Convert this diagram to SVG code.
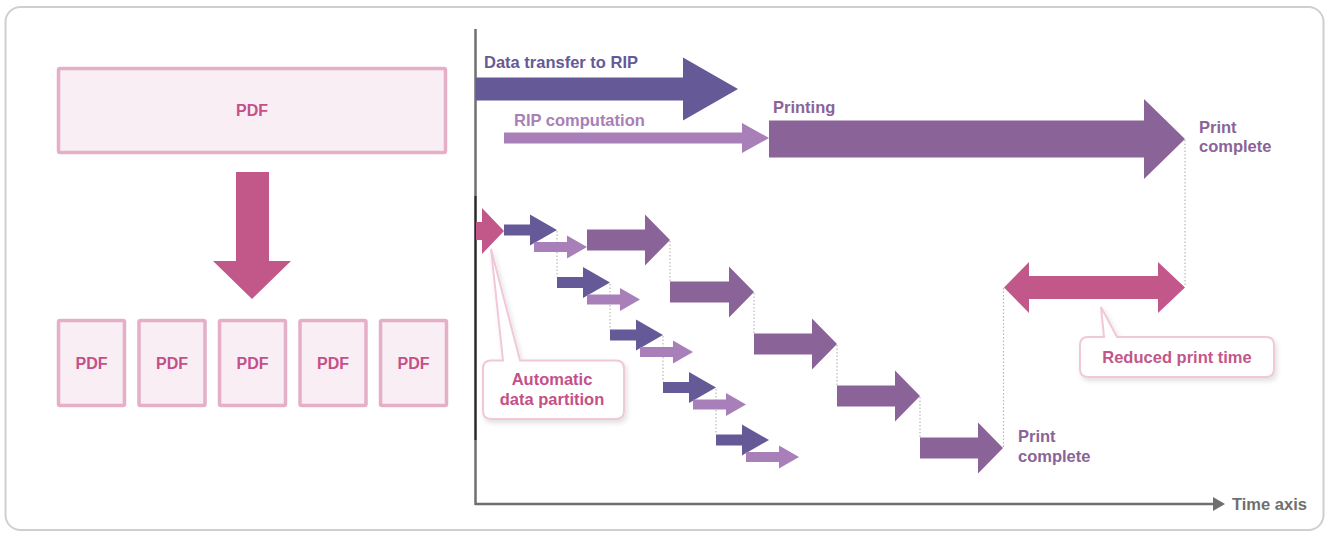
<svg xmlns="http://www.w3.org/2000/svg" width="1326" height="535" viewBox="0 0 1326 535">
<defs>
<style>
text{font-family:"Liberation Sans",Arial,sans-serif;font-weight:bold;font-size:16.5px}
.pdfbox{fill:#f9eef3;stroke:#e4afc7;stroke-width:3.5}
.pdft{fill:#c4508a;text-anchor:middle}
.pdf16{font-size:16px}
.dark{fill:#655a97}
.light{fill:#a87fb8}
.print{fill:#8a6398}
.pink{fill:#c2578a}
.dot{stroke:#b8b8b8;stroke-width:1.2;stroke-dasharray:1.5 2;fill:none}
.callout{fill:#ffffff;stroke:#f0c8da;stroke-width:2;filter:url(#sh)}
.axis{stroke:#6f6f6f;stroke-width:2.5;fill:none}
</style>
<filter id="sh" x="-10%" y="-20%" width="125%" height="150%">
<feDropShadow dx="2" dy="3" stdDeviation="2.5" flood-color="#000" flood-opacity="0.12"/>
</filter>
</defs>
<rect x="5.5" y="7" width="1318" height="523" rx="15" fill="#ffffff" stroke="#cfcfcf" stroke-width="2"/>

<g id="pdf-whole">
<rect class="pdfbox" x="58.5" y="68.5" width="387" height="84" rx="1.5"/>
<text class="pdft pdf16" x="252" y="116">PDF</text>
</g>
<g id="split-arrow">
<path class="pink" d="M236 172 H269 V261 H291 L252 299 L213 261 H236 Z"/>
</g>
<g id="pdf-parts">
<g id="pdf1"><rect class="pdfbox" x="58.5" y="320.5" width="66" height="85" rx="1.5"/><text class="pdft pdf16" x="91.5" y="369">PDF</text></g>
<g id="pdf2"><rect class="pdfbox" x="139" y="320.5" width="66" height="85" rx="1.5"/><text class="pdft pdf16" x="172" y="369">PDF</text></g>
<g id="pdf3"><rect class="pdfbox" x="219.5" y="320.5" width="66" height="85" rx="1.5"/><text class="pdft pdf16" x="252.5" y="369">PDF</text></g>
<g id="pdf4"><rect class="pdfbox" x="300" y="320.5" width="66" height="85" rx="1.5"/><text class="pdft pdf16" x="333" y="369">PDF</text></g>
<g id="pdf5"><rect class="pdfbox" x="380.5" y="320.5" width="66" height="85" rx="1.5"/><text class="pdft pdf16" x="413.5" y="369">PDF</text></g>
</g>

<g id="axes">
<line class="axis" x1="475.5" y1="29" x2="475.5" y2="505"/>
<line x1="475.5" y1="196" x2="475.5" y2="440" stroke="#2a2a2a" stroke-width="2"/>
<line class="axis" x1="475" y1="504" x2="1215" y2="504"/>
<polygon points="1213,497 1225,504 1213,511" fill="#6f6f6f"/>
<text x="1232" y="510" fill="#6f6f6f">Time axis</text>
</g>

<g id="connectors">
<line class="dot" x1="557" y1="231" x2="557" y2="277"/>
<line class="dot" x1="610" y1="284" x2="610" y2="330"/>
<line class="dot" x1="663" y1="336" x2="663" y2="382"/>
<line class="dot" x1="716" y1="389" x2="716" y2="434"/>
<line class="dot" x1="670" y1="241" x2="670" y2="282"/>
<line class="dot" x1="754" y1="293" x2="754" y2="334"/>
<line class="dot" x1="837" y1="345" x2="837" y2="386"/>
<line class="dot" x1="920" y1="397" x2="920" y2="438"/>
<line class="dot" x1="1003.5" y1="288" x2="1003.5" y2="448"/>
<line class="dot" x1="1185" y1="140" x2="1185" y2="287"/>
</g>

<g id="serial">
<g id="data-transfer">
<path class="dark" d="M476 77.5 H683 V57.5 L738 89 L683 120.5 V100.5 H476 Z"/>
<text x="484" y="68" fill="#655a97">Data transfer to RIP</text>
</g>
<g id="rip-computation">
<path class="light" d="M504 132.5 H742 V123 L769 138 L742 153 V143.5 H504 Z"/>
<text x="514" y="126" fill="#a87fb8">RIP computation</text>
</g>
<g id="printing">
<path class="print" d="M769 120.5 H1144 V99 L1185 139 L1144 179 V157.5 H769 Z"/>
<text x="773" y="113" fill="#8a6398">Printing</text>
</g>
<g id="print-complete-top">
<text fill="#8a6398"><tspan x="1199" y="133">Print</tspan><tspan x="1199" y="152">complete</tspan></text>
</g>
</g>

<g id="parallel">
<g id="partition-start"><path class="pink" d="M476 222 H482 V208 L504 231 L482 254 V240 H476 Z"/></g>
<g id="transfer-steps">
<path class="dark" d="M504 224.5 H530 V214.5 L557 230 L530 245.5 V235.5 H504 Z"/>
<path class="dark" d="M557 277 H583 V267 L610 282.5 L583 298 V288 H557 Z"/>
<path class="dark" d="M610 329.5 H636 V319.5 L663 335 L636 350.5 V340.5 H610 Z"/>
<path class="dark" d="M663 382 H689 V372 L716 387.5 L689 403 V393 H663 Z"/>
<path class="dark" d="M716 434.5 H742 V424.5 L769 440 L742 455.5 V445.5 H716 Z"/>
</g>
<g id="rip-steps">
<path class="light" d="M534 242 H567 V235.5 L587 247 L567 258.5 V252 H534 Z"/>
<path class="light" d="M587 294.5 H620 V288 L640 299.5 L620 311 V304.5 H587 Z"/>
<path class="light" d="M640 347 H673 V340.5 L693 352 L673 363.5 V357 H640 Z"/>
<path class="light" d="M693 399.5 H726 V393 L746 404.5 L726 416 V409.5 H693 Z"/>
<path class="light" d="M746 452 H779 V445.5 L799 457 L779 468.5 V462 H746 Z"/>
</g>
<g id="print-steps">
<path class="print" d="M587 229.5 H645 V214.5 L670 240 L645 265.5 V250.5 H587 Z"/>
<path class="print" d="M670 281.5 H729 V266.5 L754 292 L729 317.5 V302.5 H670 Z"/>
<path class="print" d="M754 333.5 H812 V318.5 L837 344 L812 369.5 V354.5 H754 Z"/>
<path class="print" d="M837 385.5 H895 V370.5 L920 396 L895 421.5 V406.5 H837 Z"/>
<path class="print" d="M920 437.5 H978 V422.5 L1003 448 L978 473.5 V458.5 H920 Z"/>
</g>
<g id="print-complete-bottom">
<text fill="#8a6398"><tspan x="1018" y="442">Print</tspan><tspan x="1018" y="462">complete</tspan></text>
</g>
</g>

<g id="reduced-time">
<path class="pink" d="M1004 287.5 L1029 262 V276 H1158 V262 L1185 287.5 L1158 313 V299 H1029 V313 Z"/>
</g>

<g id="callout-partition">
<path class="callout" d="M491 360.5 H503 L491 249 L520 360.5 H616 Q624 360.5 624 368.5 V411 Q624 419 616 419 H491 Q483 419 483 411 V368.5 Q483 360.5 491 360.5 Z"/>
<text class="pdft" x="552" y="385">Automatic</text>
<text class="pdft" x="552" y="405">data partition</text>
</g>
<g id="callout-reduced">
<path class="callout" d="M1088 337 H1104 L1101 307 L1117 337 H1266 Q1274 337 1274 345 V369 Q1274 377 1266 377 H1088 Q1080 377 1080 369 V345 Q1080 337 1088 337 Z"/>
<text x="1177" y="363" fill="#c2578a" text-anchor="middle">Reduced print time</text>
</g>
</svg>
